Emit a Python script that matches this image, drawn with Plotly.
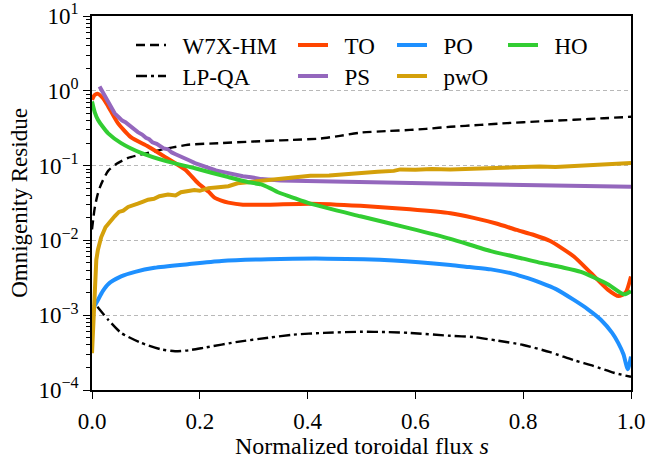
import plotly.graph_objects as go

# ---------------- data ----------------
w7x_s = [0.0, 0.005, 0.01, 0.015, 0.02, 0.03, 0.045, 0.067, 0.09, 0.123, 0.15, 0.178,
         0.24, 0.30, 0.33, 0.37, 0.424, 0.46, 0.498, 0.55, 0.59, 0.62, 0.665, 0.72,
         0.77, 0.83, 0.894, 0.95, 1.0]
w7x_v = [0.014, 0.027, 0.04, 0.052, 0.063, 0.085, 0.105, 0.127, 0.14, 0.16, 0.175, 0.19,
         0.20, 0.21, 0.215, 0.22, 0.23, 0.25, 0.276, 0.29, 0.30, 0.31, 0.33, 0.35,
         0.37, 0.39, 0.41, 0.43, 0.45]

lpqa_s = [0.01, 0.03, 0.054, 0.09, 0.128, 0.154, 0.18, 0.21, 0.27, 0.327, 0.374, 0.43,
          0.498, 0.55, 0.59, 0.665, 0.708, 0.75, 0.80, 0.85, 0.894, 0.93, 0.968, 1.0]
lpqa_v = [1.3e-3, 8.7e-4, 5.8e-4, 4.3e-4, 3.5e-4, 3.3e-4, 3.4e-4, 3.7e-4, 4.4e-4, 5.0e-4,
          5.5e-4, 5.8e-4, 6.0e-4, 5.95e-4, 5.8e-4, 5.3e-4, 5.1e-4, 4.6e-4, 4.0e-4,
          3.2e-4, 2.5e-4, 2.1e-4, 1.7e-4, 1.5e-4]

to_s = [0.0, 0.005, 0.011, 0.02, 0.03, 0.048, 0.072, 0.104, 0.136, 0.173, 0.197, 0.216,
        0.228, 0.24, 0.253, 0.28, 0.327, 0.405, 0.498, 0.59, 0.665, 0.708, 0.75, 0.788,
        0.82, 0.85, 0.894, 0.925, 0.957, 0.977, 0.99, 1.0]
to_v = [0.76, 0.88, 0.91, 0.80, 0.62, 0.37, 0.24, 0.18, 0.13, 0.088, 0.058, 0.045,
        0.037, 0.034, 0.032, 0.030, 0.030, 0.031, 0.029, 0.026, 0.023, 0.020, 0.0168, 0.0138,
        0.0118, 0.0098, 0.0061, 0.0037, 0.0022, 0.0018, 0.002, 0.0033]

ps_s = [0.014, 0.02, 0.028, 0.036, 0.042, 0.05, 0.056, 0.062, 0.07, 0.078, 0.085, 0.093,
        0.1, 0.106, 0.112, 0.12, 0.125, 0.133, 0.141, 0.148, 0.155, 0.163, 0.17, 0.18,
        0.191, 0.2, 0.21, 0.22, 0.23, 0.24, 0.253, 0.265, 0.28, 0.295, 0.314, 0.35,
        0.436, 0.55, 0.665, 0.8, 0.9, 1.0]
ps_v = [1.14, 0.95, 0.72, 0.60, 0.50, 0.44, 0.40, 0.38, 0.34, 0.31, 0.28, 0.26,
        0.235, 0.225, 0.205, 0.195, 0.185, 0.17, 0.165, 0.15, 0.142, 0.135, 0.126, 0.118,
        0.108, 0.102, 0.096, 0.091, 0.086, 0.083, 0.079, 0.076, 0.072, 0.070, 0.066, 0.063,
        0.061, 0.059, 0.057, 0.055, 0.054, 0.052]

po_s = [0.004, 0.011, 0.02, 0.03, 0.054, 0.08, 0.116, 0.178, 0.24, 0.327, 0.436, 0.56,
        0.665, 0.70, 0.74, 0.78, 0.81, 0.833, 0.86, 0.894, 0.92, 0.944, 0.965, 0.976,
        0.986, 0.994, 1.0]
po_v = [1.3e-3, 1.6e-3, 2.1e-3, 2.6e-3, 3.3e-3, 3.8e-3, 4.3e-3, 4.8e-3, 5.3e-3, 5.6e-3,
        5.7e-3, 5.4e-3, 4.7e-3, 4.4e-3, 4.1e-3, 3.6e-3, 3.1e-3, 2.7e-3, 2.25e-3, 1.6e-3,
        1.2e-3, 8.7e-4, 5.8e-4, 4.3e-4, 3.0e-4, 1.9e-4, 2.8e-4]

pwo_s = [0.0, 0.003, 0.005, 0.008, 0.011, 0.014, 0.017, 0.025, 0.033, 0.042, 0.05, 0.058,
         0.067, 0.075, 0.085, 0.095, 0.104, 0.115, 0.125, 0.141, 0.155, 0.165, 0.178, 0.19,
         0.2, 0.216, 0.23, 0.253, 0.27, 0.29, 0.31, 0.327, 0.35, 0.38, 0.405, 0.44, 0.47,
         0.498, 0.53, 0.56, 0.572, 0.6, 0.63, 0.665, 0.7, 0.735, 0.771, 0.8, 0.83, 0.86,
         0.894, 0.93, 0.96, 1.0]
pwo_v = [3.1e-4, 1.2e-3, 3.0e-3, 5.5e-3, 7.5e-3, 9.3e-3, 0.011, 0.015, 0.018, 0.021, 0.024,
         0.025, 0.028, 0.029, 0.031, 0.033, 0.035, 0.036, 0.039, 0.041, 0.040, 0.044, 0.045,
         0.047, 0.046, 0.050, 0.051, 0.053, 0.058, 0.060, 0.062, 0.064, 0.066, 0.069, 0.073,
         0.074, 0.077, 0.081, 0.083, 0.085, 0.089, 0.088, 0.090, 0.089, 0.091, 0.093, 0.094,
         0.095, 0.097, 0.096, 0.099, 0.101, 0.103, 0.108]

ho_s = [0.0, 0.005, 0.011, 0.02, 0.03, 0.054, 0.092, 0.141, 0.191, 0.253, 0.29, 0.314,
        0.33, 0.345, 0.37, 0.405, 0.498, 0.59, 0.665, 0.74, 0.80, 0.833, 0.87, 0.907,
        0.957, 0.987, 1.0]
ho_v = [0.72, 0.52, 0.41, 0.33, 0.27, 0.20, 0.147, 0.113, 0.092, 0.070, 0.060, 0.056,
        0.050, 0.044, 0.038, 0.031, 0.021, 0.0145, 0.0105, 0.0072, 0.0057, 0.005, 0.0044,
        0.0038, 0.0026, 0.0019, 0.0021]

y_tickvals = [1e-4, 1e-3, 1e-2, 1e-1, 1e0, 1e1]
y_ticktext = ["10<sup>−4</sup>", "10<sup>−3</sup>", "10<sup>−2</sup>",
              "10<sup>−1</sup>", "10<sup>0</sup>", "10<sup>1</sup>"]
x_tickvals = [0.0, 0.2, 0.4, 0.6, 0.8, 1.0]
x_ticktext = ["0.0", "0.2", "0.4", "0.6", "0.8", "1.0"]
x_title = "Normalized toroidal flux <i>s</i>"
y_title = "Omnigenity Residue"

FONT = "Liberation Serif"
FS = 22
NB = "\u00a0\u00a0"

# (name, s, v, color, width, dash, shape, legend id, legend x (px), row)
series = [
    ("W7X-HM", w7x_s, w7x_v, "black", 2.4, "9px,5px", "spline", "legend", 131, 0),
    ("LP-QA", lpqa_s, lpqa_v, "black", 2.4, "11px,4px,3px,4px", "spline", "legend2", 131, 1),
    ("TO", to_s, to_v, "#FF4500", 4, "solid", "spline", "legend3", 293, 0),
    ("PS", ps_s, ps_v, "#9467BD", 4, "solid", "linear", "legend4", 293, 1),
    ("PO", po_s, po_v, "#1E90FF", 4, "solid", "spline", "legend5", 392, 0),
    ("pwO", pwo_s, pwo_v, "#D4A00A", 4, "solid", "linear", "legend6", 392, 1),
    ("HO", ho_s, ho_v, "#32CD32", 4, "solid", "spline", "legend7", 503, 0),
]

L, R, T, B = 92, 17, 16, 70
W, H = 648, 460
pw, ph = W - L - R, H - T - B

fig = go.Figure()
layout_legends = {}
row_y = [45, 76]
for name, s, v, col, lw, dash, shape, lg, lx, row in series:
    fig.add_trace(go.Scatter(
        x=s, y=v, mode="lines", name=NB + name, legend=lg,
        line=dict(color=col, width=lw, dash=dash, shape=shape, smoothing=0.6),
    ))
    layout_legends[lg] = dict(
        x=(lx - L) / pw, y=(H - B - row_y[row]) / ph,
        xanchor="left", yanchor="middle",
        bgcolor="rgba(0,0,0,0)", borderwidth=0,
        font=dict(family=FONT, size=23, color="black"),
    )

minor_vals = [k * 10 ** e for e in range(-4, 1) for k in range(2, 10)]

fig.update_layout(
    width=W, height=H,
    margin=dict(l=L, r=R, t=T, b=B, autoexpand=False),
    paper_bgcolor="white", plot_bgcolor="white",
    font=dict(family=FONT, size=FS, color="black"),
    showlegend=True,
    **layout_legends,
)

# x-axis title placed as a paper annotation for exact vertical position
fig.add_annotation(
    text=x_title, xref="paper", yref="paper", x=0.5, y=-(446 - (H - B)) / ph,
    xanchor="center", yanchor="middle", showarrow=False,
    font=dict(family=FONT, size=24, color="black"),
)

fig.update_xaxes(
    range=[0, 1], tickvals=x_tickvals, ticktext=x_ticktext, automargin=False,
    ticks="outside", ticklen=7, tickwidth=1.3, tickcolor="black",
    showline=True, linecolor="black", linewidth=1.5, mirror=True,
    showgrid=False, zeroline=False, ticklabelstandoff=3,
    tickfont=dict(family=FONT, size=23),
)
fig.update_yaxes(
    type="log", range=[-4, 1], tickvals=y_tickvals, ticktext=y_ticktext, automargin=False,
    ticks="outside", ticklen=7, tickwidth=1.3, tickcolor="black",
    showline=True, linecolor="black", linewidth=1.5, mirror=True,
    showgrid=True, gridcolor="#b8b8b8", griddash="4px,3px", gridwidth=1,
    zeroline=False,
    minor=dict(tickvals=minor_vals, ticks="outside", ticklen=4, tickwidth=1, tickcolor="black", showgrid=False),
    tickfont=dict(family=FONT, size=23),
    title=dict(text=y_title, font=dict(family=FONT, size=23), standoff=4),
)

fig.write_html("out.html")
